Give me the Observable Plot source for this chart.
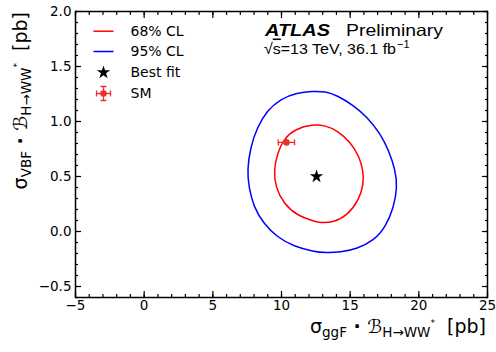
<!DOCTYPE html>
<html><head><meta charset="utf-8">
<script src="https://cdn.jsdelivr.net/npm/d3@7"></script>
<script src="https://cdn.jsdelivr.net/npm/@observablehq/plot@0.6"></script>
<style>body{margin:0;background:#fff}#chart{width:496px;height:352px}</style>
</head><body><div id="chart"></div>
<script>
// ---- data ----
const xMajorTicks = [-5, 0, 5, 10, 15, 20, 25];
const yMajorTicks = [-0.5, 0.0, 0.5, 1.0, 1.5, 2.0];
const xMinorTicks = d3.range(-5, 26, 1);
const yMinorTicks = d3.range(-6, 21).map(d => d / 10);

// 68% CL contour (ggF, VBF)
const cl68X = [9.44, 9.69, 10.17, 11.02, 12.24, 13.20, 14.06, 15.02, 15.63, 15.95, 15.99, 15.63, 14.78, 13.81, 12.84, 12.35, 11.14, 10.17, 9.56];
const cl68Y = [0.555, 0.706, 0.843, 0.934, 0.973, 0.964, 0.918, 0.812, 0.691, 0.555, 0.434, 0.282, 0.145, 0.085, 0.077, 0.094, 0.145, 0.252, 0.403];
// 95% CL contour
const cl95X = [7.50, 7.74, 8.23, 8.96, 9.93, 11.14, 12.24, 13.20, 14.06, 15.27, 16.24, 17.21, 17.81, 18.30, 18.43, 18.18, 17.57, 16.72, 15.51, 14.30, 13.20, 12.35, 10.90, 9.69, 8.71, 7.98, 7.62];
const cl95Y = [0.555, 0.766, 0.948, 1.100, 1.206, 1.261, 1.275, 1.273, 1.236, 1.145, 1.039, 0.888, 0.736, 0.555, 0.403, 0.221, 0.039, -0.082, -0.157, -0.188, -0.194, -0.182, -0.136, -0.052, 0.070, 0.221, 0.403];
// best fit and SM prediction
const bestFitX = [12.55];
const bestFitY = [0.50];
const smX = [10.36];
const smY = [0.81];
const smXLow = [9.76];
const smXHigh = [10.95];
const legendLabels = ["68% CL", "95% CL", "Best fit", "SM"];

const cl68 = cl68X.map((x, i) => ({x, y: cl68Y[i]}));
const cl95 = cl95X.map((x, i) => ({x, y: cl95Y[i]}));
const best = bestFitX.map((x, i) => ({x, y: bestFitY[i]}));
const sm = smX.map((x, i) => ({x, y: smY[i], lo: smXLow[i], hi: smXHigh[i]}));

const RED = "#ff0000", BLUE = "#0000ff", SMRED = "#ee2f2f";

// custom symbols
const hLine = {draw(ctx, size) { const l = Math.sqrt(size / Math.PI); ctx.moveTo(-l, 0); ctx.lineTo(l, 0); }};
const vLine = {draw(ctx, size) { const l = Math.sqrt(size / Math.PI); ctx.moveTo(0, -l); ctx.lineTo(0, l); }};
const errCross = {draw(ctx, size) {
  const l = Math.sqrt(size / Math.PI), c = 3;
  ctx.moveTo(-l, 0); ctx.lineTo(l, 0);
  ctx.moveTo(-l, -c); ctx.lineTo(-l, c);
  ctx.moveTo(l, -c); ctx.lineTo(l, c);
  ctx.moveTo(0, -l); ctx.lineTo(0, l);
  ctx.moveTo(-c, -l); ctx.lineTo(c, -l);
  ctx.moveTo(-c, l); ctx.lineTo(c, l);
}};

const fmtX = d3.format("d");
const fmtY = d3.format(".1f");
const blank = () => "";
const tk = {label: null, strokeWidth: 1.2, tickFormat: blank};

function ticksAll(xt, yt, size) {
  return [
    Plot.axisX({...tk, ticks: xt, anchor: "bottom", tickSize: size, insetBottom: size}),
    Plot.axisX({...tk, ticks: xt, anchor: "top", tickSize: size, insetTop: size}),
    Plot.axisY({...tk, ticks: yt, anchor: "left", tickSize: size, insetLeft: size}),
    Plot.axisY({...tk, ticks: yt, anchor: "right", tickSize: size, insetRight: size})
  ];
}

const legendDy = [19.7, 40, 61, 82];
const legendMarks = [
  Plot.dot([0], {x: null, y: null, frameAnchor: "top-left", dx: 28, dy: legendDy[0], symbol: hLine, r: 10, stroke: RED, strokeWidth: 1.5, fill: "none"}),
  Plot.dot([0], {x: null, y: null, frameAnchor: "top-left", dx: 28, dy: legendDy[1], symbol: hLine, r: 10, stroke: BLUE, strokeWidth: 1.5, fill: "none"}),
  Plot.dot([0], {x: null, y: null, frameAnchor: "top-left", dx: 28, dy: legendDy[2], symbol: "star", r: 4.2, fill: "black", stroke: "none"}),
  Plot.dot([0], {x: null, y: null, frameAnchor: "top-left", dx: 28, dy: legendDy[3], symbol: errCross, r: 7, stroke: SMRED, strokeWidth: 1.3, fill: "none"}),
  Plot.dot([0], {x: null, y: null, frameAnchor: "top-left", dx: 28, dy: legendDy[3], r: 3.3, fill: SMRED, stroke: "none"}),
  ...legendLabels.map((t, i) => Plot.text([t], {x: null, y: null, text: d => d, frameAnchor: "top-left", dx: 55, dy: legendDy[i], textAnchor: "start", lineAnchor: "middle", fontSize: 14, fill: "black"}))
];

const svg = Plot.plot({
  width: 496, height: 352,
  marginLeft: 75, marginRight: 9, marginTop: 11, marginBottom: 55,
  x: {domain: [-5, 25]},
  y: {domain: [-0.6, 2.0]},
  style: {fontFamily: "DejaVu Sans", fontSize: "13.5px", color: "black", background: "white", overflow: "visible"},
  marks: [
    ...ticksAll(xMinorTicks, yMinorTicks, 3),
    ...ticksAll(xMajorTicks, yMajorTicks, 6),
    Plot.axisX({label: null, ticks: xMajorTicks, anchor: "bottom", tickSize: 0, tickPadding: 3, tickFormat: fmtX, fontSize: 13.5}),
    Plot.axisY({label: null, ticks: yMajorTicks, anchor: "left", tickSize: 0, tickPadding: 4, tickFormat: fmtY, fontSize: 13.5}),
    Plot.line(cl95, {x: "x", y: "y", stroke: BLUE, strokeWidth: 1.5, curve: "basis-closed"}),
    Plot.line(cl68, {x: "x", y: "y", stroke: RED, strokeWidth: 1.5, curve: "basis-closed"}),
    Plot.link(sm, {x1: "lo", x2: "hi", y1: "y", y2: "y", stroke: SMRED, strokeWidth: 1.3}),
    Plot.dot(sm, {x: "lo", y: "y", symbol: vLine, r: 3, stroke: SMRED, strokeWidth: 1.3, fill: "none"}),
    Plot.dot(sm, {x: "hi", y: "y", symbol: vLine, r: 3, stroke: SMRED, strokeWidth: 1.3, fill: "none"}),
    Plot.dot(sm, {x: "x", y: "y", r: 3.3, fill: SMRED, stroke: "none"}),
    Plot.dot(best, {x: "x", y: "y", symbol: "star", r: 4.2, fill: "black", stroke: "none"}),
    ...legendMarks,
    Plot.frame({stroke: "black", strokeWidth: 1.5})
  ]
});
document.getElementById("chart").appendChild(svg);

// ---- texts with sub/superscripts ----
const s = d3.select(svg);
function axisTitle(sel, sub1) {
  sel.attr("font-family", "DejaVu Sans").attr("font-size", 19).attr("fill", "black").attr("text-anchor", "end");
  sel.append("tspan").text("σ");
  sel.append("tspan").attr("font-size", 13.5).attr("dy", 4).text(sub1);
  sel.append("tspan").attr("dy", -4).attr("font-weight", "bold").text(" · ");
  sel.append("tspan").text("ℬ");
  sel.append("tspan").attr("font-size", 13.5).attr("dy", 4).text("H→WW");
  sel.append("tspan").attr("font-size", 9).attr("dy", -11).text("*");
  sel.append("tspan").attr("dy", 7).text("  [pb]");
}
axisTitle(s.append("text").attr("x", 486).attr("y", 333), "ggF");
axisTitle(s.append("text").attr("transform", "translate(27,12) rotate(-90)"), "VBF");

const helv = sel => sel.attr("text-anchor", "start").attr("font-family", "Liberation Sans").attr("fill", "black");
s.append("text").call(helv).attr("x", 265).attr("y", 35.7).attr("font-size", 16.5)
  .attr("font-weight", "bold").attr("font-style", "italic")
  .attr("textLength", 65).attr("lengthAdjust", "spacingAndGlyphs").text("ATLAS");
s.append("text").call(helv).attr("x", 346).attr("y", 35.7).attr("font-size", 16.5)
  .attr("textLength", 97).attr("lengthAdjust", "spacingAndGlyphs").text("Preliminary");

const lumi = s.append("text").call(helv).attr("x", 264).attr("y", 53.5).attr("font-size", 15.5)
  .attr("textLength", 132).attr("lengthAdjust", "spacingAndGlyphs");
lumi.append("tspan").text("√");
lumi.append("tspan").style("text-decoration", "overline").text("s");
lumi.append("tspan").text("=13 TeV, 36.1 fb");
s.append("text").call(helv).attr("x", 397).attr("y", 48).attr("font-size", 11).text("−1");
</script>
</body></html>
